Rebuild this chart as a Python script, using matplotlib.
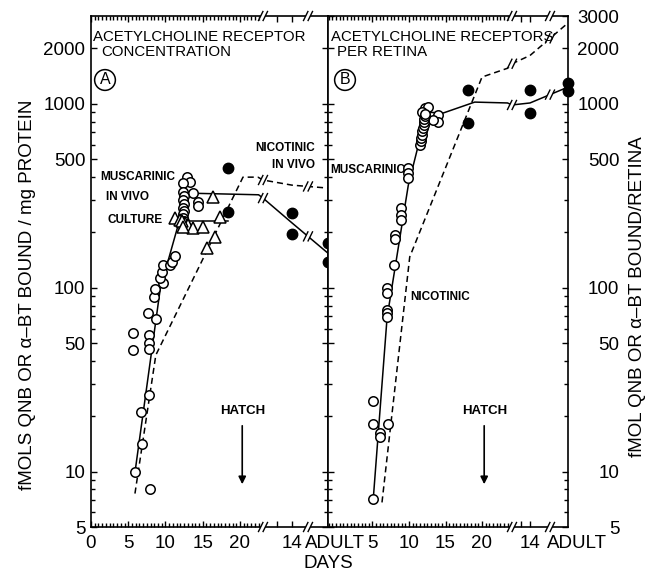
import numpy as np
import matplotlib
matplotlib.use("Agg")
import matplotlib.pyplot as plt
from matplotlib.patches import Polygon
from matplotlib.lines import Line2D
from matplotlib.transforms import IdentityTransform
from matplotlib.ticker import FixedLocator, NullFormatter

plt.rcParams['font.family'] = ['Liberation Sans', 'DejaVu Sans']

W, H = 654, 572

# ---- Panel A: receptor concentration (fmol / mg protein), embryonic days ----
A_MUSC_DAYS = [5.9, 6.8, 7.9, 6.7, 7.8, 5.7, 5.7, 7.6, 7.8, 7.8, 7.8, 8.7, 8.5, 8.6,
               9.7, 9.3, 9.5, 9.7, 10.6, 10.9, 11.3, 12.9, 13.3, 12.3, 13.7, 14.4, 14.4,
               12.3, 12.5, 12.3, 12.5, 12.3, 12.5, 12.4, 12.3, 12.5, 12.4]
A_MUSC_VALS = [9.9, 14.1, 8.0, 21.1, 26.0, 56.5, 45.7, 72.7, 55.1, 50.0, 46.4, 67.4, 88.8, 98.0,
               105.6, 112.7, 121.6, 132.7, 132.7, 137.8, 148.6, 399, 375, 371, 327, 292, 278,
               330, 315, 300, 285, 272, 260, 250, 240, 230, 220]
A_CULT_DAYS = [11.3, 11.9, 12.6, 13.0, 13.7, 15.0, 16.4, 17.3, 16.6, 15.6, 12.2, 12.4]
A_CULT_VALS = [239, 233, 224, 219, 211, 214, 311, 242, 188, 164, 230, 215]
A_NIC_DAYS = [18.4, 18.4]
A_NIC_VALS = [447, 258]
A_NIC_PH_DAYS = [14, 14]
A_NIC_PH_VALS = [255, 196]
A_NIC_ADULT_VALS = [175, 138]

# fitted lines, stage E = embryo day, P = post-hatch day, A = adult
A_MUSC_LINE_STAGE = ['E', 'E', 'E', 'E', 'E', 'E', 'P', 'P', 'A']
A_MUSC_LINE_DAY = [5.9, 9.3, 11.7, 12.5, 12.5, 22.5, 0, 14, 0]
A_MUSC_LINE_VAL = [9.9, 99, 219, 222, 327, 320, 307, 225, 154]
A_CULT_LINE_DAY = [11.7, 18.4]
A_CULT_LINE_VAL = [230, 230]
A_NIC_LINE_STAGE = ['E', 'E', 'E', 'E', 'P', 'P', 'A']
A_NIC_LINE_DAY = [5.9, 8.7, 20.4, 22.4, 0, 14, 0]
A_NIC_LINE_VAL = [7.6, 43, 399, 399, 385, 361, 348]

# ---- Panel B: receptors per retina (fmol / retina) ----
B_MUSC_DAYS = [5.1, 5.1, 5.1, 6.0, 6.0, 7.1, 7.0, 7.0, 7.0, 7.0, 7.0, 7.9, 8.1, 8.1,
               8.9, 8.9, 8.9, 9.9, 9.9, 9.9, 12.2, 12.6, 11.8, 14.0, 14.0, 13.3,
               11.5, 11.6, 11.7, 11.8, 11.8, 11.9, 12.0, 12.0, 12.1, 12.2, 12.2]
B_MUSC_VALS = [7.07, 24.2, 18.1, 16.2, 15.4, 18.1, 99.4, 93.4, 75.4, 72.7, 69.1, 133, 193, 184,
               271, 248, 233, 447, 420, 394, 948, 960, 902, 868, 796, 816,
               600, 625, 650, 680, 710, 740, 770, 800, 830, 860, 880]
B_NIC_DAYS = [18.1, 18.1]
B_NIC_VALS = [1190, 785]
B_NIC_PH_DAYS = [14, 14]
B_NIC_PH_VALS = [1186, 891]
B_NIC_ADULT_VALS = [1296, 1170]

B_MUSC_LINE_STAGE = ['E', 'E', 'E', 'E', 'E', 'E', 'E', 'E', 'P', 'P', 'A']
B_MUSC_LINE_DAY = [5.1, 7.0, 9.9, 11.3, 12.3, 14.7, 19.0, 23.5, 0, 14, 0]
B_MUSC_LINE_VAL = [7.07, 69, 360, 600, 900, 891, 1021, 1010, 985, 1010, 1232]
B_NIC_LINE_STAGE = ['E', 'E', 'E', 'E', 'P', 'P', 'A']
B_NIC_LINE_DAY = [6.3, 10.1, 20.0, 23.5, 0, 14, 0]
B_NIC_LINE_VAL = [6.8, 147, 1397, 1560, 1650, 1830, 2750]

HATCH_DAY = 20.3

# broken day axis layout, in figure pixels
LAYOUT = {
    'A': dict(x0=91, x1=328, day0=91, per_day=7.45, b1=263, ph14=292, b2=308),
    'B': dict(x0=328, x1=568, day0=336, per_day=7.3, b1=512, ph14=530, b2=550),
}
Y_TOP, Y_BOT = 16, 527


def xpos(lay, stage, day):
    if stage == 'E':
        return lay['day0'] + lay['per_day'] * day
    if stage == 'P':
        return lay['b1'] + (lay['ph14'] - lay['b1']) / 14.0 * day
    return lay['x1']


def fxy(x, y):
    return x / W, 1 - y / H


def break_mark(ax, x, y, tr):
    X, Y = tr.transform((x, y))
    h, s, g = 4.5, 2.2, 2.3
    gap = Polygon([(X - g - s, Y - h + 1), (X + g - s, Y - h + 1),
                   (X + g + s, Y + h - 1), (X - g + s, Y + h - 1)],
                  closed=True, transform=IdentityTransform(), fc='white',
                  ec='none', zorder=5, clip_on=False)
    ax.add_artist(gap)
    for dx in (-g, g):
        ax.add_artist(Line2D([X + dx - s, X + dx + s], [Y - h, Y + h], color='k', lw=1.0,
                             transform=IdentityTransform(), zorder=6, clip_on=False))


def draw_line(ax, lay, stages, days, vals, ls):
    xs = [xpos(lay, st, d) for st, d in zip(stages, days)]
    ax.plot(xs, vals, color='k', lw=1.1, ls=ls, zorder=2, clip_on=False,
            dashes=(4, 2.6) if ls == '--' else (None, None))
    for b in (lay['b1'], lay['b2']):
        if xs[0] < b < xs[-1]:
            yb = 10 ** np.interp(b, xs, np.log10(vals))
            break_mark(ax, b, yb, ax.transData)


def setup_axes(ax, lay, e_major, minor_days, right_labels):
    ax.set_yscale('log')
    ax.set_xlim(lay['x0'], lay['x1'])
    ax.set_ylim(5, 3000)
    major = [xpos(lay, 'E', d) for d in e_major] + [xpos(lay, 'P', 7), xpos(lay, 'P', 14)]
    labels = [str(d) for d in e_major] + ['', '14']
    ax.set_xticks(major, labels)
    minor = [xpos(lay, 'E', d) for d in minor_days]
    ax.xaxis.set_minor_locator(FixedLocator(minor))
    ylab = [5, 10, 50, 100, 500, 1000, 2000] + ([3000] if right_labels else [])
    ax.set_yticks(ylab, [str(v) for v in ylab])
    ax.yaxis.set_minor_locator(FixedLocator([6, 7, 8, 9, 20, 30, 40, 60, 70, 80, 90,
                                             200, 300, 400, 600, 700, 800, 900]))
    ax.yaxis.set_minor_formatter(NullFormatter())
    ax.tick_params(which='both', direction='in', top=True, bottom=True, left=True, right=True,
                   labelleft=not right_labels, labelright=right_labels, width=1.0)
    ax.tick_params(which='major', length=4.5, labelsize=13.5)
    ax.tick_params(which='minor', length=2.8)
    ax.tick_params(axis='x', which='major', pad=6)
    ax.tick_params(axis='y', which='major', pad=37 if right_labels else 4)
    if right_labels:
        for lab in ax.get_yticklabels():
            lab.set_horizontalalignment('right')
    for sp in ax.spines.values():
        sp.set_linewidth(1.2)
    for b in (lay['b1'], lay['b2']):
        for yy in (0, 1):
            break_mark(ax, b, yy, ax.get_xaxis_transform())


fig = plt.figure(figsize=(W / 100, H / 100), dpi=100)
axes = {}
for key in ('A', 'B'):
    lay = LAYOUT[key]
    axes[key] = fig.add_axes([lay['x0'] / W, 1 - Y_BOT / H,
                              (lay['x1'] - lay['x0']) / W, (Y_BOT - Y_TOP) / H])

open_kw = dict(ls='none', marker='o', ms=6.8, mfc='white', mec='k', mew=1.1, zorder=3)
tri_kw = dict(ls='none', marker='^', ms=8, mfc='white', mec='k', mew=1.1, zorder=3)
fill_kw = dict(ls='none', marker='o', ms=7.5, mfc='k', mec='k', zorder=3, clip_on=False)

# ---- panel A ----
ax = axes['A']
lay = LAYOUT['A']
setup_axes(ax, lay, [0, 5, 10, 15, 20], np.arange(0.5, 23.0, 0.5), False)
draw_line(ax, lay, A_MUSC_LINE_STAGE, A_MUSC_LINE_DAY, A_MUSC_LINE_VAL, '-')
draw_line(ax, lay, ['E', 'E'], A_CULT_LINE_DAY, A_CULT_LINE_VAL, '-')
draw_line(ax, lay, A_NIC_LINE_STAGE, A_NIC_LINE_DAY, A_NIC_LINE_VAL, '--')
ax.plot([xpos(lay, 'E', d) for d in A_MUSC_DAYS], A_MUSC_VALS, **open_kw)
ax.plot([xpos(lay, 'E', d) for d in A_CULT_DAYS], A_CULT_VALS, **tri_kw)
ax.plot([xpos(lay, 'E', d) for d in A_NIC_DAYS], A_NIC_VALS, **fill_kw)
ax.plot([xpos(lay, 'P', d) for d in A_NIC_PH_DAYS], A_NIC_PH_VALS, **fill_kw)
ax.plot([xpos(lay, 'A', 0)] * len(A_NIC_ADULT_VALS), A_NIC_ADULT_VALS, **fill_kw)

# ---- panel B ----
ax = axes['B']
lay = LAYOUT['B']
setup_axes(ax, lay, [5, 10, 15, 20], np.arange(-1.0, 23.6, 0.5), True)
draw_line(ax, lay, B_MUSC_LINE_STAGE, B_MUSC_LINE_DAY, B_MUSC_LINE_VAL, '-')
draw_line(ax, lay, B_NIC_LINE_STAGE, B_NIC_LINE_DAY, B_NIC_LINE_VAL, '--')
ax.plot([xpos(lay, 'E', d) for d in B_MUSC_DAYS], B_MUSC_VALS, **open_kw)
ax.plot([xpos(lay, 'E', d) for d in B_NIC_DAYS], B_NIC_VALS, **fill_kw)
ax.plot([xpos(lay, 'P', d) for d in B_NIC_PH_DAYS], B_NIC_PH_VALS, **fill_kw)
ax.plot([xpos(lay, 'A', 0)] * len(B_NIC_ADULT_VALS), B_NIC_ADULT_VALS, **fill_kw)

# hatch arrows
for key in ('A', 'B'):
    ax = axes[key]
    hx = xpos(LAYOUT[key], 'E', HATCH_DAY)
    ax.annotate('', xy=(hx, (Y_BOT - 487) / (Y_BOT - Y_TOP)), xycoords=('data', 'axes fraction'),
                xytext=(hx, (Y_BOT - 423) / (Y_BOT - Y_TOP)), textcoords=('data', 'axes fraction'),
                arrowprops=dict(arrowstyle='-|>', color='k', lw=1.2, mutation_scale=11))
    fig.text(*fxy(hx, 411), 'HATCH', ha='center', va='center', fontsize=9.5, fontweight='bold')

# texts
t = dict(fontsize=10.8, va='center', ha='left')
fig.text(*fxy(93, 37), 'ACETYLCHOLINE RECEPTOR', **t)
fig.text(*fxy(101, 52), 'CONCENTRATION', **t)
fig.text(*fxy(331, 37), 'ACETYLCHOLINE RECEPTORS', **t)
fig.text(*fxy(337, 52), 'PER RETINA', **t)
circ = dict(fontsize=11.5, ha='center', va='center',
            bbox=dict(boxstyle='circle,pad=0.18', fc='none', ec='k', lw=1.1))
fig.text(*fxy(105, 80), 'A', **circ)
fig.text(*fxy(345, 80), 'B', **circ)

lbl = dict(fontsize=8.5, fontweight='bold', va='center')
fig.text(*fxy(100, 177), 'MUSCARINIC', ha='left', **lbl)
fig.text(*fxy(106, 197), 'IN VIVO', ha='left', **lbl)
fig.text(*fxy(108, 220), 'CULTURE', ha='left', **lbl)
fig.text(*fxy(315, 148), 'NICOTINIC', ha='right', **lbl)
fig.text(*fxy(315, 165), 'IN VIVO', ha='right', **lbl)
fig.text(*fxy(330, 170), 'MUSCARINIC', ha='left', **lbl)
fig.text(*fxy(410, 297), 'NICOTINIC', ha='left', **lbl)

fig.text(*fxy(LAYOUT['A']['b2'] - 3, 543), 'ADULT', ha='left', va='center', fontsize=13.5)
fig.text(*fxy(LAYOUT['B']['b2'] - 3, 543), 'ADULT', ha='left', va='center', fontsize=13.5)
fig.text(*fxy(328, 564), 'DAYS', ha='center', va='center', fontsize=13.5)
fig.text(*fxy(28, 295), 'fMOLS QNB OR \u03b1\u2013BT BOUND / mg PROTEIN', rotation=90,
         ha='center', va='center', fontsize=13.5)
fig.text(*fxy(637, 297), 'fMOL QNB OR \u03b1\u2013BT BOUND/RETINA', rotation=90,
         ha='center', va='center', fontsize=13.5)

fig.savefig('out.png', dpi=100)
